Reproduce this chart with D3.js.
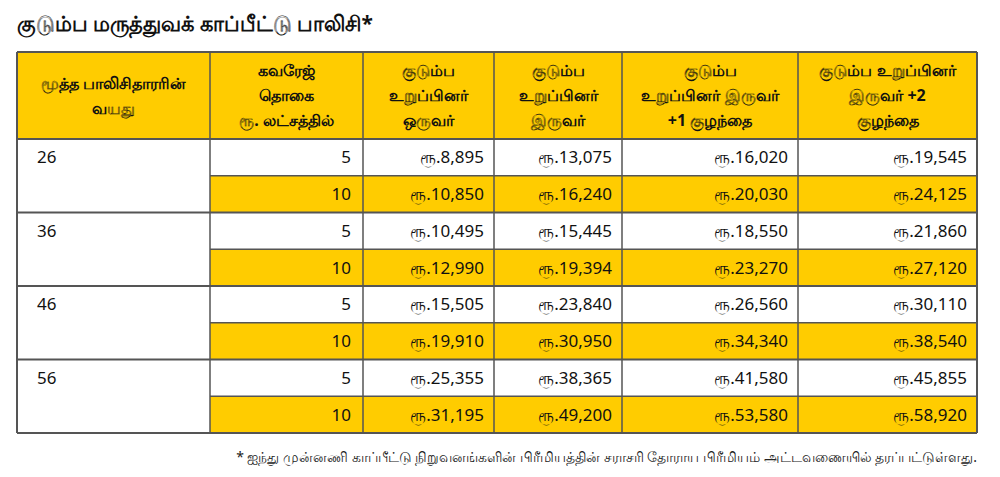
<!DOCTYPE html>
<html><head><meta charset="utf-8">
<script src="https://cdn.jsdelivr.net/npm/d3@7"></script>
<style>body{margin:0;background:#fff;font-family:"Noto Sans","DejaVu Sans",sans-serif}</style>
</head><body>
<svg id="c" width="1000" height="477"></svg>
<script>
const title = "குடும்ப மருத்துவக் காப்பீட்டு பாலிசி*";
const footnote = "* ஐந்து முன்னணி காப்பீட்டு நிறுவனங்களின் பிரீமியத்தின் சராசரி தோராய பிரீமியம் அட்டவணையில் தரப்பட்டுள்ளது.";
const headers = [
  ["மூத்த  பாலிசிதாரரின்","வயது"],
  ["கவரேஜ்","தொகை","ரூ. லட்சத்தில்"],
  ["குடும்ப","உறுப்பினர்","ஒருவர்"],
  ["குடும்ப","உறுப்பினர்","இருவர்"],
  ["குடும்ப","உறுப்பினர் இருவர்","+1  குழந்தை"],
  ["குடும்ப உறுப்பினர்","இருவர் +2","குழந்தை"]
];
const ages = [26, 36, 46, 56];
const cover = [5, 10];
const oneMember   = [8895,10850, 10495,12990, 15505,19910, 25355,31195];
const twoMembers  = [13075,16240, 15445,19394, 23840,30950, 38365,49200];
const twoPlusOne  = [16020,20030, 18550,23270, 26560,34340, 41580,53580];
const twoPlusTwo  = [19545,24125, 21860,27120, 30110,38540, 45855,58920];
const series = [oneMember, twoMembers, twoPlusOne, twoPlusTwo];

(function(){
const svg = d3.select("#c");
const Y = "#FFCC00", B = "#555";
const colEdges = [17,210,363,494,622,798,977];
const x = d3.scaleOrdinal().domain(d3.range(7)).range(colEdges);
const tTop = 139, tBottom = 433, rows = 8;
const y = d3.scaleLinear().domain([0, rows]).range([tTop, tBottom]);

svg.append("text").attr("x",17).attr("y",31).attr("font-size",21).attr("font-weight","bold").attr("fill","#111").text(title);

svg.append("rect").attr("x",17).attr("y",52).attr("width",960).attr("height",tTop-52).attr("fill",Y);
headers.forEach((h,i)=>{
  const cx=(x(i)+x(i+1))/2;
  const lh=25, y0 = 52 + (87 - h.length*lh)/2 + 18;
  h.forEach((t,j)=>svg.append("text").attr("x",cx).attr("y",y0+j*lh).attr("text-anchor","middle")
    .attr("font-size",16).attr("font-weight","bold").attr("fill","#111").text(t));
});

const fmt = d3.format(",");
for(let r=0;r<rows;r++){
  const yl = r%2===1;
  const y0=y(r), y1=y(r+1), ym=(y0+y1)/2+6;
  if(yl) svg.append("rect").attr("x",x(1)).attr("y",y0).attr("width",x(6)-x(1)).attr("height",y1-y0).attr("fill",Y);
  svg.append("text").attr("x",x(2)-12).attr("y",ym).attr("text-anchor","end").attr("font-size",17).attr("fill","#111").text(cover[r%2]);
  series.forEach((s,k)=>{
    svg.append("text").attr("x",x(k+3)-10).attr("y",ym).attr("text-anchor","end").attr("font-size",17).attr("fill","#111").text("ரூ."+fmt(s[r]));
  });
  if(r%2===0) svg.append("text").attr("x",37).attr("y",ym).attr("font-size",17).attr("fill","#111").text(ages[r/2]);
}
for(let r=0;r<=rows;r++){
  svg.append("line").attr("x1", r%2===0?x(0):x(1)).attr("x2",x(6)).attr("y1",y(r)).attr("y2",y(r)).attr("stroke",B).attr("stroke-width",r%2===0?2:1.5);
}
svg.append("line").attr("x1",17).attr("x2",977).attr("y1",52).attr("y2",52).attr("stroke",B).attr("stroke-width",2);
colEdges.forEach((cx,i)=>svg.append("line").attr("x1",cx).attr("x2",cx).attr("y1",52).attr("y2",tBottom).attr("stroke",B).attr("stroke-width",(i===0||i===6)?2:1.5));

svg.append("text").attr("x",977).attr("y",462).attr("text-anchor","end").attr("font-size",14).attr("fill","#222").text(footnote);
})();
</script>
</body></html>
